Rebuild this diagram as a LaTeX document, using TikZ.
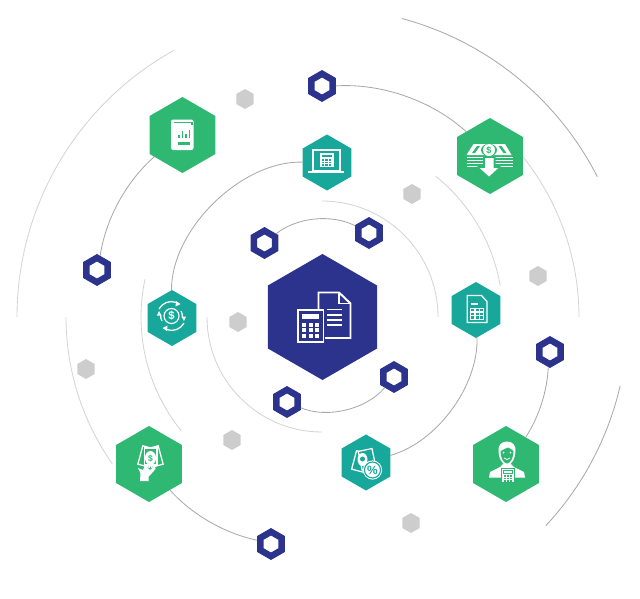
\documentclass[tikz,border=0pt]{standalone}
\usepackage{fontspec}
\setsansfont{Liberation Sans}
\usetikzlibrary{shapes.geometric}
\definecolor{hubblue}{HTML}{2B338C}
\definecolor{leafgreen}{HTML}{2EB872}
\definecolor{tealhex}{HTML}{17A89B}
\definecolor{dotgrey}{HTML}{CDCDCD}
\definecolor{ringdark}{HTML}{A9A9A9}
\definecolor{ringlight}{HTML}{D4D4D4}
\tikzset{
  hexbase/.style={regular polygon, regular polygon sides=6, shape border rotate=30,
    inner sep=0pt, outer sep=0pt, draw=none},
  hubhex/.style={hexbase, fill=hubblue, minimum size=3.15cm},
  bighex/.style={hexbase, fill=leafgreen, minimum size=1.9cm},
  midhex/.style={hexbase, fill=tealhex, minimum size=1.4cm},
  dothex/.style={hexbase, fill=dotgrey, minimum size=0.5cm},
  ringhex/.style={hexbase, fill=white, draw=hubblue, line width=4.6pt, minimum size=0.6125cm, outer sep=2.3pt},
  link/.style={ringdark, line width=0.6pt, looseness=0.85},
  freearc/.style={line width=0.6pt},
  icon/.style={fill=white, draw=none},
  iconline/.style={draw=white, fill=none, line width=0.9pt}
}
\begin{document}
\begin{tikzpicture}[x=0.025cm, y=-0.025cm]
    \useasboundingbox (0,0) rectangle (640,599);
    \coordinate (center) at (322,317);

    % Free arcs round the centre
    \draw[freearc, ringlight] (center) ++(-90:116) arc[start angle=-90, end angle=0, radius=116];
    \draw[freearc, ringlight] (center) ++(90:115) arc[start angle=90, end angle=180, radius=115];
    \draw[freearc, ringlight] (center) ++(-51:181) arc[start angle=-51, end angle=-10, radius=181];
    \draw[freearc, ringlight] (center) ++(141:181) arc[start angle=141, end angle=192, radius=181];
    \draw[freearc, ringlight] (center) ++(-39:257) arc[start angle=-39, end angle=0, radius=257];
    \draw[freearc, ringlight] (center) ++(145:256) arc[start angle=145, end angle=180, radius=256];
    \draw[freearc, ringlight] (center) ++(180:305) arc[start angle=180, end angle=241, radius=305];
    \draw[freearc, ringdark] (center) ++(-75:309) arc[start angle=-75, end angle=-27, radius=309];
    \draw[freearc, ringdark] (center) ++(13:306) arc[start angle=13, end angle=43, radius=306];

    % Grey dots
    \node[dothex] (dotA) at (245,99) {};
    \node[dothex] (dotB) at (412,194) {};
    \node[dothex] (dotC) at (538,276) {};
    \node[dothex] (dotD) at (238,322) {};
    \node[dothex] (dotE) at (86,369) {};
    \node[dothex] (dotF) at (232,440) {};
    \node[dothex] (dotG) at (411,523) {};

    % Hexagons
    \node[hubhex] (hub) at (322.5,317) {};
    \node[bighex] (book) at (182.5,135) {};
    \node[midhex] (laptop) at (327,162.5) {};
    \node[bighex] (money) at (490,156) {};
    \node[midhex] (sheet) at (476,310) {};
    \node[midhex] (cycle) at (172,318) {};
    \node[bighex] (hand) at (149,464) {};
    \node[midhex] (percent) at (366,462.5) {};
    \node[bighex] (man) at (506,464) {};

    % Blue rings
    \node[ringhex] (ringA) at (322,86) {};
    \node[ringhex] (ringB) at (97,270) {};
    \node[ringhex] (ringC) at (264.5,243) {};
    \node[ringhex] (ringD) at (369,233) {};
    \node[ringhex] (ringE) at (550,352) {};
    \node[ringhex] (ringF) at (394,377) {};
    \node[ringhex] (ringG) at (287,402) {};
    \node[ringhex] (ringH) at (271,544) {};

    % Links between hexagons
    \draw[link] (ringC) to[bend left=33] (ringD);
    \draw[link] (ringF) to[bend left=36] (ringG);
    \draw[link] (cycle) to[bend left=46] (laptop);
    \draw[link] (sheet) to[bend left=38] (percent);
    \draw[link] (ringB) to[bend left=20] (book);
    \draw[link] (ringA) to[bend left=23] (money);
    \draw[link] (ringH) to[bend left=18] (hand);
    \draw[link] (ringE) to[bend left=15] (man);

    % Hub icon: sheet and calculator
    \draw[white, line width=1.4pt, line join=miter] (318.5,309) -- (318.5,292.5) -- (339,292.5) -- (350.5,303.5) -- (350.5,338) -- (325,338);
    \draw[white, line width=0.9pt] (339,293) -- (339,303.5) -- (350,303.5);
    \draw[white, line width=0.9pt] (327,309.5) -- (342,309.5);
    \draw[white, line width=0.9pt] (327,315) -- (342,315);
    \draw[white, line width=0.9pt] (327,320) -- (342,320);
    \draw[white, line width=0.9pt] (327,325) -- (342,325);
    \draw[white, line width=1.4pt, fill=hubblue] (298,310) rectangle (323.5,342);
    \fill[white] (302,314) rectangle (319,319);
    \foreach \kx in {302,308.5,315}
      \foreach \ky in {322.5,328,333.5}
        \fill[white] (\kx,\ky) rectangle ++(4.3,4.3);

    % Book icon
    \fill[icon, rounded corners=1.5pt] (171,119.5) rectangle (193.5,150);
    \draw[leafgreen, line width=0.8pt] (173.5,122.5) -- (192,122.5) -- (192,125);
    \fill[leafgreen] (178,135) rectangle (179.5,138);
    \fill[leafgreen] (181.5,131) rectangle (183,138);
    \fill[leafgreen] (185,134) rectangle (186.5,138);
    \fill[leafgreen] (188.5,130) rectangle (190,138);
    \fill[leafgreen] (178,141.5) rectangle (190,145);

    % Laptop icon
    \draw[iconline, line width=0.8pt] (313,150) rectangle (340,171);
    \fill[icon] (308,171) rectangle (344,173.2);
    \fill[icon] (319.5,152.5) rectangle (333.5,167);
    \fill[tealhex] (321.5,154.5) rectangle (331.5,157);
    \foreach \kx in {321.5,325,328.5}
      \foreach \ky in {159,161.5,164}
        \fill[tealhex] (\kx,\ky) rectangle ++(2.5,1.6);

    % Money icon
    \fill[icon] (473.5,144) -- (505,144) -- (511.5,155) -- (466.5,155) -- cycle;
    \fill[leafgreen] (477,146) -- (480,146) -- (475,153) -- (472,153) -- cycle;
    \fill[leafgreen] (498.5,146) -- (501.5,146) -- (506.5,153) -- (503.5,153) -- cycle;
    \fill[icon] (466.5,156.5) rectangle (512.5,158.3);
    \fill[icon] (466.5,159.5) rectangle (512.5,161.3);
    \fill[icon] (466.5,162.5) rectangle (512.5,164.3);
    \fill[icon] (466.5,165.5) rectangle (512.5,167.3);
    \fill[leafgreen] (489,150) ellipse[x radius=8, y radius=6.2];
    \node[icon, circle, inner sep=0pt, minimum size=0.3cm] (moneycoin) at (489,150) {};
    \node[inner sep=0pt, leafgreen] (moneysign) at (489,150) {\fontsize{6.5}{6.5}\sffamily\bfseries\$};
    \fill[leafgreen] (483,157) -- (495.5,157) -- (495.5,166) -- (501,166) -- (489,179) -- (477,166) -- (483,166) -- cycle;
    \fill[icon] (485,158) -- (493.5,158) -- (493.5,168) -- (498.3,168) -- (489,176.5) -- (479.7,168) -- (485,168) -- cycle;

    % Sheet icon
    \draw[iconline] (467.2,295.5) -- (481.5,295.5) -- (487,301.5) -- (487,322.5) -- (467.2,322.5) -- cycle;
    \draw[white, line width=0.9pt] (470.5,304) -- (477.5,304);
    \fill[icon] (470,307.5) rectangle (484,320);
    \foreach \kx in {471,475.5,480}
      \foreach \ky in {308.5,312.7,316.4}
        \fill[tealhex] (\kx,\ky) rectangle ++(3,2.7);

    % Cycle icon
    \draw[white, line width=0.8pt] (171.5,316) circle[radius=7.5];
    \node[inner sep=0pt, white] (cyclesign) at (171.5,316) {\fontsize{8}{8}\sffamily\bfseries\$};
    \draw[white, line width=0.9pt] (159,309) arc[start angle=208, end angle=290, radius=14];
    \draw[white, line width=0.9pt] (184,323) arc[start angle=28, end angle=110, radius=14];
    \draw[white, line width=0.9pt] (162,321) arc[start angle=150, end angle=185, radius=11];
    \draw[white, line width=0.9pt] (181,311) arc[start angle=-30, end angle=5, radius=11];
    \fill[icon] (176,301) -- (180.5,304) -- (175.5,306.5) -- cycle;
    \fill[icon] (167,331) -- (162.5,328) -- (167.5,325.5) -- cycle;
    \fill[icon] (159,311) -- (157,315.5) -- (161.5,315.5) -- cycle;
    \fill[icon] (184,321) -- (186,316.5) -- (181.5,316.5) -- cycle;

    % Hand icon
    \draw[iconline, fill=leafgreen, rotate around={-15:(146,457)}] (140,447) rectangle (152,466);
    \draw[iconline, fill=leafgreen, rotate around={15:(155,457)}] (149,447) rectangle (161,466);
    \draw[iconline, fill=leafgreen] (144.5,448) rectangle (157,465);
    \fill[icon] (150.5,458) ellipse[x radius=5.5, y radius=7];
    \node[inner sep=0pt, leafgreen] (handsign) at (150.5,458.5) {\fontsize{6}{6}\sffamily\bfseries\$};
    \fill[icon] (145,465) -- (150,470) -- (155,466) -- (155.5,469) -- (148.5,477) -- (148.5,481) -- (140,481) -- (140.5,473) -- (138,468) -- (143,470) -- cycle;

    % Percent icon
    \draw[iconline, fill=tealhex, rotate around={-15:(360,461)}] (354,452) rectangle (368,471);
    \draw[iconline, fill=tealhex, rotate around={12:(366,459)}] (360,450) rectangle (374,469);
    \fill[icon] (362.5,459.5) ellipse[x radius=5, y radius=6.5];
    \fill[tealhex] (362.5,459) circle[radius=2.5];
    \node[icon, circle, inner sep=0pt, minimum size=0.48cm] (percentcoin) at (372.5,470) {};
    \draw[tealhex, line width=0.8pt] (372.5,470) circle[radius=8];
    \node[inner sep=0pt, tealhex] (percentsign) at (372.5,470) {\fontsize{8.5}{8.5}\sffamily\bfseries\%};

    % Man icon
    \fill[icon] (489,477.5) -- (490,472) -- (500,467) -- (503,464) -- (511,464) -- (514,467) -- (524,472) -- (525,477.5) -- cycle;
    \fill[icon] (498.5,450) .. controls (498,445) and (502,441.5) .. (507,441.5) .. controls (513,441.5) and (516,446) .. (515.5,451) .. controls (515.5,458) and (512,465) .. (507,465.5) .. controls (502,465) and (498.5,458) .. (498.5,450) -- cycle;
    \fill[leafgreen] (500.5,451) .. controls (503,449) and (506,449) .. (508,447.5) .. controls (510,449) and (512,449) .. (513.5,451) .. controls (513.5,457) and (511,463) .. (507,463.5) .. controls (503,463) and (500.5,457) .. (500.5,451) -- cycle;
    \fill[icon] (503.5,452.5) circle[radius=1];
    \fill[icon] (510.5,452.5) circle[radius=1];
    \draw[white, line width=0.6pt] (504,458) .. controls (506,460) and (508,460) .. (510,458);
    \draw[leafgreen, line width=0.8pt, fill=white] (501.5,468.5) rectangle (514.5,483);
    \draw[leafgreen, line width=0.5pt, fill=white] (503.5,470.5) rectangle (512.5,473.5);
    \foreach \kx in {503.5,506.7,509.9}
      \foreach \ky in {475,477.6,480.1}
        \fill[leafgreen] (\kx,\ky) rectangle ++(2.3,1.8);
  \end{tikzpicture}
\end{document}
